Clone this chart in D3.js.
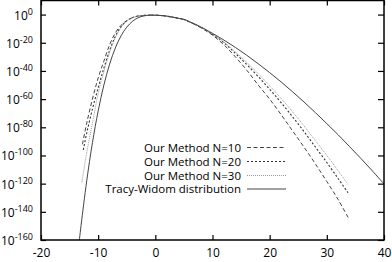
<!DOCTYPE html>
<html><head><meta charset="utf-8">
<script src="https://cdn.jsdelivr.net/npm/d3@7"></script>
<style>
html,body{margin:0;padding:0;background:#fff;}
svg{display:block;}
text{font-family:"Open Sans","Noto Sans",sans-serif;fill:#000;}
</style></head>
<body>
<svg id="c" width="392" height="262"></svg>
<script>
// ---- data (y values are log10 of the density) ----
const xTicks = [-20, -10, 0, 10, 20, 30, 40];
const yTickExp = [0, -20, -40, -60, -80, -100, -120, -140, -160];

const twX = [-13.4,-13,-12,-11,-10,-9,-8,-7,-6,-5,-4,-3,-2,-1,0,1,2,3,4,5,6,7,8,10,12,14,16,18,20,22,24,26,28,30,32,34,36,38,40];
const twY = [-164,-149.9,-118,-90.9,-68.4,-50,-35.2,-23.7,-15.1,-8.9,-4.8,-2.2,-0.94,-0.42,-0.45,-0.65,-1.1,-1.8,-2.6,-3.4,-5.1,-6.9,-8.9,-13.3,-18.1,-23.3,-28.9,-34.9,-41.2,-47.8,-54.8,-62.0,-69.6,-77.4,-85.4,-93.8,-102.3,-111.1,-120.2];

const n10X = [-12.75,-12,-11,-10,-9,-8,-7,-6,-5,-4,-3,-2,-1,0,1,2,3,4,5,6,7,8,10,12,14,16,18,20,22,24,26,28,30,32,33.8];
const n10Y = [-92,-77,-60,-45,-33,-21.5,-13,-7.6,-4.3,-2.1,-1.0,-0.6,-0.42,-0.45,-0.65,-1.1,-1.8,-2.6,-3.5,-5.3,-7.2,-9.4,-14.6,-21.5,-30,-39.5,-50,-60,-71,-82.5,-94,-106,-118.5,-131.5,-144.5];

const n20X = [-12.6,-12,-11,-10,-9,-8,-7,-6,-5,-4,-3,-2,-1,0,1,2,3,4,5,6,7,8,10,12,14,16,18,20,22,24,26,28,30,32,33.7];
const n20Y = [-96,-84,-67,-52,-38,-25.5,-15.5,-8.6,-4.5,-2.2,-1.05,-0.6,-0.42,-0.45,-0.65,-1.1,-1.8,-2.6,-3.45,-5.2,-7.05,-9.1,-14,-20,-27.5,-35.5,-44,-53,-62.5,-72.5,-83,-94,-105,-116.5,-126.5];

const n30X = [-12.85,-12,-11,-10,-9,-8,-7,-6,-5,-4,-3,-2,-1,0,1,2,3,4,5,6,7,8,10,12,14,16,18,20,22,24,26,28,30,32,33.7];
const n30Y = [-119,-98,-77,-56,-40.5,-27,-16.5,-9.2,-4.7,-2.3,-1.1,-0.6,-0.42,-0.45,-0.65,-1.1,-1.8,-2.6,-3.42,-5.15,-7,-9.0,-13.8,-19.5,-26.5,-34,-42,-50.5,-59.5,-69,-79,-89.5,-100,-111,-120.5];

const seriesNames = ["Our Method N=10", "Our Method N=20", "Our Method N=30", "Tracy-Widom distribution"];

// ---- layout ----
const PL = 41, PR = 384, PT = 0.5, PB = 240;
const svg = d3.select("#c");
const xs = d3.scaleLinear().domain([-20, 40]).range([PL, PR]);
const ys = d3.scaleLinear().domain([-160, 10]).range([PB, PT]);

const styles = [
  {dash: "4,2.5", color: "#444", w: 1},
  {dash: "2,2", color: "#333", w: 1.1},
  {dash: "1,1", color: "#999", w: 1},
  {dash: null, color: "#444", w: 1}
];
const series = [[n10X, n10Y], [n20X, n20Y], [n30X, n30Y], [twX, twY]];

svg.append("clipPath").attr("id", "clip").append("rect")
  .attr("x", PL).attr("y", PT).attr("width", PR - PL).attr("height", PB - PT);

const lineGen = d3.line().x(d => xs(d[0])).y(d => ys(d[1])).curve(d3.curveCatmullRom);

series.forEach((s, i) => {
  const pts = s[0].map((v, k) => [v, s[1][k]]);
  svg.append("path").datum(pts)
    .attr("clip-path", "url(#clip)")
    .attr("d", lineGen)
    .attr("fill", "none")
    .attr("stroke", styles[i].color)
    .attr("stroke-width", styles[i].w)
    .attr("stroke-dasharray", styles[i].dash);
});

// ---- axes ----
const ax = svg.append("g");
const axB = d3.axisBottom(xs).tickValues(xTicks).tickSize(-5).tickPadding(9).tickFormat(d3.format("d"));
const axT = d3.axisTop(xs).tickValues(xTicks).tickSize(-5).tickFormat("");
const axL = d3.axisLeft(ys).tickValues(yTickExp).tickSize(-5).tickFormat("");
const axR = d3.axisRight(ys).tickValues(yTickExp).tickSize(-6).tickFormat("");

const gb = ax.append("g").attr("transform", `translate(0,${PB})`).call(axB);
gb.selectAll("text").attr("font-size", 12).attr("y", 8).attr("dy", "0.75em").text(d => d < 0 ? "-" + Math.abs(d) : d);
ax.append("g").attr("transform", `translate(0,${PT})`).call(axT);
ax.append("g").attr("transform", `translate(${PL},0)`).call(axL);
ax.append("g").attr("transform", `translate(${PR},0)`).call(axR);
ax.selectAll(".domain").remove();
ax.selectAll(".tick line").attr("stroke", "#000").attr("stroke-width", 1.2);

// frame
svg.append("rect").attr("x", PL).attr("y", PT).attr("width", PR - PL).attr("height", PB - PT)
  .attr("fill", "none").attr("stroke", "#000").attr("stroke-width", 1.5);

// y labels 10^k
yTickExp.forEach(e => {
  const t = svg.append("text").attr("x", 33).attr("y", ys(e) + 5)
    .attr("text-anchor", "end").attr("font-size", 12);
  t.append("tspan").text("10");
  t.append("tspan").attr("dy", -5).attr("font-size", 9).text(e < 0 ? "-" + Math.abs(e) : e);
});

// ---- legend ----
const legY = [147.5, 161.5, 175.5, 189];
seriesNames.forEach((name, i) => {
  svg.append("text").attr("x", 241).attr("y", legY[i] + 4.2)
    .attr("text-anchor", "end").attr("font-size", 11.5).text(name);
  svg.append("line").attr("x1", 247).attr("x2", 286)
    .attr("y1", legY[i]).attr("y2", legY[i])
    .attr("stroke", styles[i].color).attr("stroke-width", styles[i].w)
    .attr("stroke-dasharray", styles[i].dash);
});
</script>
</body></html>
